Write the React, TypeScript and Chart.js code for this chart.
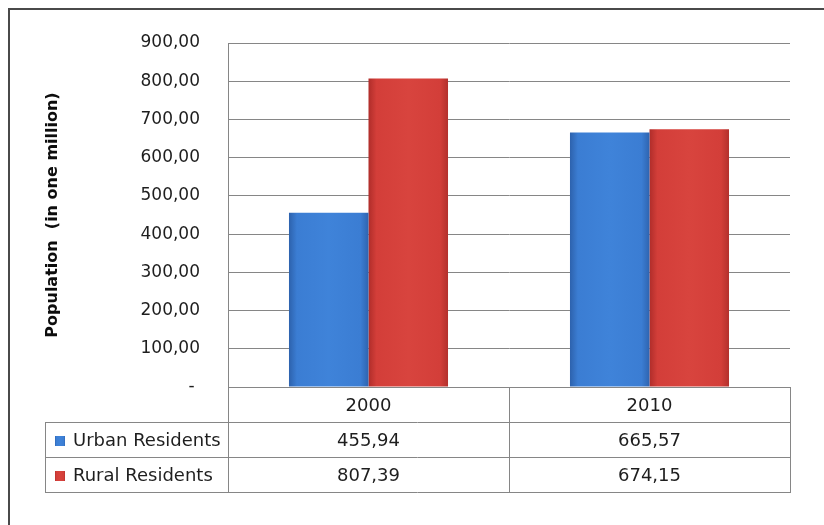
import React, { useEffect, useRef } from "react";
import { Chart, registerables } from "chart.js";

Chart.register(...registerables);

// ---- data ----
const categories = ["2000", "2010"];
const seriesNames = ["Urban Residents", "Rural Residents"];
const urbanValues = [455.94, 665.57];
const ruralValues = [807.39, 674.15];
const yMin = 0;
const yMax = 900;
const yStep = 100;
const axisTitle = "Population  (in one million)";

// ---- styles ----
const FONT = "'DejaVu Sans', sans-serif";
const TEXT = "#1e1e1e";
const LINE = "#868686";
const CAT_PCT = 0.566;
const seriesColors = [
  ["#2d62ad", "#3b7dd3", "#3f83d9", "#2e64b0"],
  ["#b02d2a", "#d33e39", "#d8443e", "#b3302c"],
];

function fmt(v: number): string {
  return v.toFixed(2).replace(".", ",");
}

function gradientFor(chart: any, x0: number, x1: number, cols: string[]) {
  const g = chart.ctx.createLinearGradient(x0, 0, x1, 0);
  g.addColorStop(0, cols[0]);
  g.addColorStop(0.1, cols[1]);
  g.addColorStop(0.5, cols[2]);
  g.addColorStop(0.9, cols[1]);
  g.addColorStop(1, cols[3]);
  return g;
}

function barColor(ctx: any) {
  const cols = seriesColors[ctx.datasetIndex] || seriesColors[0];
  const chart = ctx.chart;
  if (ctx.type !== "data" || !chart.chartArea || !chart.scales.x) return cols[2];
  const xs = chart.scales.x;
  const n = chart.data.labels.length;
  const catW = (xs.right - xs.left) / n;
  const groupW = catW * CAT_PCT;
  const barW = groupW / chart.data.datasets.length;
  const center = xs.getPixelForValue(ctx.dataIndex);
  const left = center - groupW / 2 + ctx.datasetIndex * barW;
  return gradientFor(chart, left, left + barW, cols);
}

const tablePlugin = {
  id: "dataTable",
  afterDraw(chart: any) {
    const { ctx, chartArea } = chart;
    const xs = chart.scales.x;
    const rowH = 35;
    const top = chartArea.bottom;
    const tableLeft = 35;
    const left = chartArea.left;
    const right = chartArea.right;
    const n = categories.length;
    const catW = (right - left) / n;
    const rows = [urbanValues, ruralValues];
    const bottom = top + rowH * (rows.length + 1);

    ctx.save();
    ctx.strokeStyle = LINE;
    ctx.lineWidth = 1;
    const hl = (x0: number, x1: number, y: number) => {
      ctx.beginPath();
      ctx.moveTo(x0, Math.round(y) + 0.5);
      ctx.lineTo(x1, Math.round(y) + 0.5);
      ctx.stroke();
    };
    const vl = (x: number, y0: number, y1: number) => {
      ctx.beginPath();
      ctx.moveTo(Math.round(x) + 0.5, y0);
      ctx.lineTo(Math.round(x) + 0.5, y1 + 1);
      ctx.stroke();
    };
    hl(left, right, top);
    for (let r = 1; r <= rows.length + 1; r++) hl(tableLeft, right, top + rowH * r);
    for (let c = 0; c <= n; c++) vl(left + catW * c, top, bottom);
    vl(tableLeft, top + rowH, bottom);

    ctx.fillStyle = TEXT;
    ctx.font = `18px ${FONT}`;
    ctx.textAlign = "center";
    ctx.textBaseline = "middle";
    categories.forEach((c, i) => {
      ctx.fillText(c, xs.getPixelForValue(i), top + rowH / 2 + 2);
    });
    rows.forEach((vals, r) => {
      const cy = top + rowH * (r + 1) + rowH / 2 + 2;
      vals.forEach((v, i) => {
        ctx.fillStyle = TEXT;
        ctx.textAlign = "center";
        ctx.fillText(fmt(v), xs.getPixelForValue(i), cy);
      });
      const sq = 10;
      const sx = tableLeft + 10;
      const sy = Math.round(cy - sq / 2 - 1);
      ctx.fillStyle = gradientFor(chart, sx, sx + sq, seriesColors[r]);
      ctx.fillRect(sx, sy, sq, sq);
      ctx.fillStyle = TEXT;
      ctx.textAlign = "left";
      ctx.fillText(seriesNames[r], tableLeft + 28, cy);
    });
    ctx.restore();
  },
};

export default function App() {
  const ref = useRef<HTMLCanvasElement | null>(null);

  useEffect(() => {
    if (!ref.current) return;
    const chart = new Chart(ref.current, {
      type: "bar",
      data: {
        labels: categories,
        datasets: [
          { label: seriesNames[0], data: urbanValues, backgroundColor: barColor, borderWidth: 0 },
          { label: seriesNames[1], data: ruralValues, backgroundColor: barColor, borderWidth: 0 },
        ],
      },
      options: {
        responsive: false,
        animation: false,
        events: [],
        datasets: { bar: { categoryPercentage: CAT_PCT, barPercentage: 1 } },
        layout: { padding: { left: 0, top: 33, right: 34, bottom: 138 } },
        plugins: { legend: { display: false }, tooltip: { enabled: false }, title: { display: false } },
        scales: {
          x: { display: false },
          y: {
            min: yMin,
            max: yMax,
            ticks: {
              stepSize: yStep,
              padding: 28,
              color: TEXT,
              font: { family: FONT, size: 17 },
              callback: (v: any) => (Number(v) === 0 ? "- " : fmt(Number(v))),
            },
            grid: { color: LINE, lineWidth: 1, drawTicks: false },
            border: { display: true, color: LINE, width: 1 },
            title: {
              display: true,
              text: axisTitle,
              color: "#0d0d0d",
              font: { family: FONT, size: 16, weight: "bold" },
              padding: { top: 33, bottom: 0 },
            },
            afterFit: (scale: any) => {
              scale.width = 218;
              scale.paddingTop = 0;
              scale.paddingBottom = 0;
            },
          },
        },
      },
      plugins: [tablePlugin],
    });
    return () => chart.destroy();
  }, []);

  return (
    <div
      style={{
        position: "fixed",
        left: 8,
        top: 8,
        width: 816,
        height: 517,
        borderLeft: "2px solid #4a4a4a",
        borderTop: "2px solid #4a4a4a",
        background: "#fff",
      }}
    >
      <canvas ref={ref} width={814} height={515} style={{ display: "block" }} />
    </div>
  );
}
